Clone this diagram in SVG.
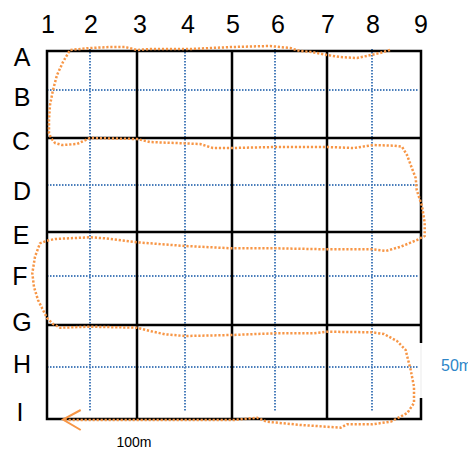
<svg xmlns="http://www.w3.org/2000/svg" width="468" height="449" viewBox="0 0 468 449">
<style>
.lbl{font-family:"Liberation Sans",Arial,sans-serif;font-size:25px;fill:#000;text-anchor:middle}
.grid{stroke:#000;stroke-width:2.5;fill:none}
.sub{stroke:#4a7ebb;stroke-width:2;stroke-dasharray:1.5 1.5;fill:none}
.route{stroke:#f79646;stroke-width:2.5;stroke-dasharray:2.2 1.8;fill:none;stroke-linejoin:round}
</style>
<rect width="468" height="449" fill="#fff"/>
<g id="col-labels">
<text class="lbl" x="48" y="33">1</text>
<text class="lbl" x="91" y="33">2</text>
<text class="lbl" x="140" y="33">3</text>
<text class="lbl" x="188" y="33">4</text>
<text class="lbl" x="233" y="33">5</text>
<text class="lbl" x="278" y="33">6</text>
<text class="lbl" x="328" y="33">7</text>
<text class="lbl" x="373" y="33">8</text>
<text class="lbl" x="421" y="33">9</text>
</g>
<g id="row-labels">
<text class="lbl" x="22" y="66">A</text>
<text class="lbl" x="22" y="106">B</text>
<text class="lbl" x="21" y="150">C</text>
<text class="lbl" x="22" y="200">D</text>
<text class="lbl" x="21" y="244">E</text>
<text class="lbl" x="20" y="285">F</text>
<text class="lbl" x="22" y="331">G</text>
<text class="lbl" x="22" y="373">H</text>
<text class="lbl" x="20" y="421">I</text>
</g>
<g id="subgrid">
<line class="sub" x1="90" y1="49" x2="90" y2="412"/>
<line class="sub" x1="185" y1="49" x2="185" y2="412"/>
<line class="sub" x1="275" y1="49" x2="275" y2="412"/>
<line class="sub" x1="372" y1="49" x2="372" y2="412"/>
<line class="sub" x1="47" y1="90" x2="419" y2="90"/>
<line class="sub" x1="47" y1="185" x2="419" y2="185"/>
<line class="sub" x1="47" y1="276" x2="419" y2="276"/>
<line class="sub" x1="47" y1="367" x2="419" y2="367"/>
</g>
<g id="grid">
<path class="grid" d="M421,343 L421,51 L47,51 L47,419 L421,419 L421,398"/>
<line x1="421" y1="343" x2="421" y2="398" stroke="#ddd" stroke-width="0.6"/>
<line class="grid" x1="137" y1="51" x2="137" y2="419"/>
<line class="grid" x1="232" y1="51" x2="232" y2="419"/>
<line class="grid" x1="327" y1="51" x2="327" y2="419"/>
<line class="grid" x1="47" y1="138" x2="421" y2="138"/>
<line class="grid" x1="47" y1="232" x2="421" y2="232"/>
<line class="grid" x1="47" y1="325" x2="421" y2="325"/>
</g>
<g id="connectors">
<path class="route" d="M390,50 L380,53 L371,55 L357,58 L340,57 L327,55 L312,52 L300,51 L290,48 L270,46 L232,47 L190,49 L150,49 L137,50 L125,47 L110,47 L90,48 L70,50 L63,62 L57,75 L53,90 L50,105 L49,120 L49,133 L51,138 L55,143 L62,145 L77,144 L90,138 L137,139 L150,142 L200,144 L213,148 L232,148 L275,147 L327,147 L354,148 L373,145 L394,145.7 L402,146.7 L407,155 L410.7,165 L415.7,178 L416.7,190 L422,206 L424.7,223 L424.7,236 L417,240 L400.7,246.7 L385.7,251 L372,249.3 L327,249.3 L275,248.3 L232,248.3 L185,246 L137,242.3 L105,238.3 L90,237.3 L55,239 L47,240.7 L40,243.3 L35,256.7 L32.3,273.3 L34,287 L38,300 L42,308 L47,318 L53,324 L60,327.7 L90,326.7 L137,327.7 L150,331 L165,334.3 L185,336 L232,335 L275,333.3 L314,333.3 L327,331.7 L372,332.3 L384,334 L397,341 L405.7,350 L407.3,356.7 L410.7,370 L414,386.7 L414,403 L407.3,413 L397.3,418.3 L390.7,421.7 L372.3,424.3 L347,424.3 L340.7,427.7 L326.7,426.7 L300.7,425 L267,421.7 L257,417.7 L244,419 L234,420 L63,420"/>
<path d="M80.7,410 L63,419.5 L80.7,430" fill="none" stroke="#f79646" stroke-width="2"/>
</g>
<g id="scale-labels">
<text x="134" y="447" font-family="'Liberation Sans',Arial,sans-serif" font-size="14" text-anchor="middle" fill="#000">100m</text>
<text x="441" y="371" font-family="'Liberation Sans',Arial,sans-serif" font-size="16" fill="#2e86c8">50m</text>
</g>
</svg>
